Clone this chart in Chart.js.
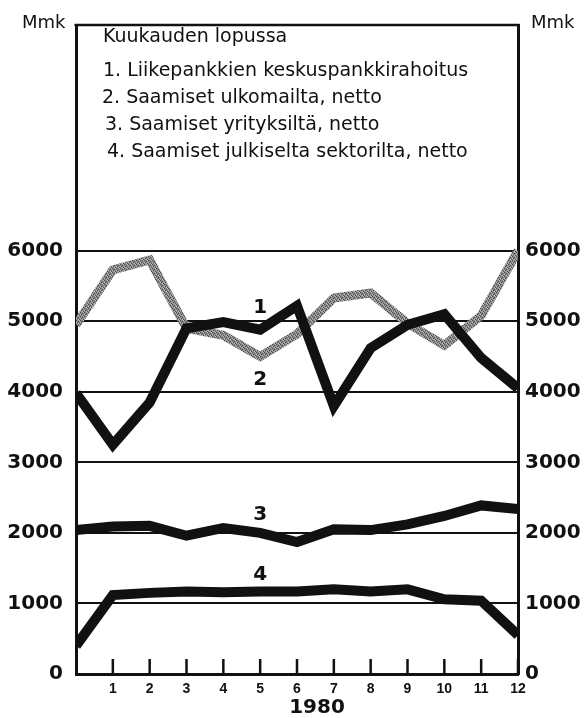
<!DOCTYPE html>
<html>
<head>
<meta charset="utf-8">
<script src="https://cdn.jsdelivr.net/npm/chart.js@4/dist/chart.umd.min.js"></script>
<style>
  body { margin: 0; background: #fff; }
  #wrap { width: 588px; height: 718px; position: relative; }
</style>
</head>
<body>
<div id="wrap"><canvas id="chart"></canvas></div>
<script>
// months 0..12 (0 = start of year, values at end of each month)
const months = [0, 1, 2, 3, 4, 5, 6, 7, 8, 9, 10, 11, 12];

// 1. Liikepankkien keskuspankkirahoitus
const centralFinancing = [4950, 5730, 5870, 4900, 4800, 4500, 4820, 5330, 5400, 4970, 4660, 5080, 6000];
// 2. Saamiset ulkomailta, netto
const foreignClaims = [3980, 3250, 3850, 4900, 4990, 4880, 5220, 3800, 4620, 4950, 5100, 4480, 4050];
// 3. Saamiset yrityksiltä, netto
const corporateClaims = [2040, 2090, 2100, 1960, 2070, 2000, 1870, 2050, 2040, 2120, 2240, 2390, 2340];
// 4. Saamiset julkiselta sektorilta, netto
const publicClaims = [400, 1120, 1150, 1170, 1160, 1170, 1170, 1200, 1170, 1200, 1060, 1040, 550];

const yTicks = [0, 1000, 2000, 3000, 4000, 5000, 6000];
const xTicks = [1, 2, 3, 4, 5, 6, 7, 8, 9, 10, 11, 12];

const legendTitle = "Kuukauden lopussa";
const legendItems = [
    "1. Liikepankkien keskuspankkirahoitus",
    "2. Saamiset ulkomailta, netto",
    "3. Saamiset yrityksiltä, netto",
    "4. Saamiset julkiselta sektorilta, netto"
];

// where the series numbers sit, in data units
const seriesTags = ["1", "2", "3", "4"];
const seriesTagX = [5, 5, 5, 5];
const seriesTagY = [5190, 4170, 2260, 1400];

function points(values) {
    return months.map((m, i) => ({ x: m, y: values[i] }));
}

// stippled grey for line 1
function greyPattern() {
    const c = document.createElement("canvas");
    c.width = 4;
    c.height = 4;
    const g = c.getContext("2d");
    g.fillStyle = "#8c8c8c";
    g.fillRect(0, 0, 4, 4);
    g.fillStyle = "#4a4a4a";
    g.fillRect(0, 0, 1, 1);
    g.fillRect(2, 1, 1, 1);
    g.fillRect(1, 2, 1, 1);
    g.fillRect(3, 3, 1, 1);
    g.fillStyle = "#bdbdbd";
    g.fillRect(2, 3, 1, 1);
    g.fillRect(0, 2, 1, 1);
    g.fillRect(3, 0, 1, 1);
    return g.createPattern(c, "repeat");
}

const BLACK = "#111";

const extras = {
    id: "extras",
    afterDraw(chart) {
        const ctx = chart.ctx;
        const area = chart.chartArea;
        const x = chart.scales.x;
        const y = chart.scales.y;

        ctx.save();
        ctx.strokeStyle = BLACK;
        ctx.fillStyle = BLACK;

        // top border of frame
        ctx.lineWidth = 2.5;
        ctx.beginPath();
        ctx.moveTo(area.left - 1.5, area.top);
        ctx.lineTo(area.right + 1.5, area.top);
        ctx.stroke();

        // month ticks inside the plot
        ctx.lineWidth = 2.5;
        xTicks.forEach(m => {
            const px = x.getPixelForValue(m);
            ctx.beginPath();
            ctx.moveTo(px, area.bottom);
            ctx.lineTo(px, area.bottom - 15);
            ctx.stroke();
        });

        // unit labels
        ctx.font = "18px 'DejaVu Sans'";
        ctx.textBaseline = "alphabetic";
        ctx.textAlign = "left";
        ctx.fillText("Mmk", 22, 28);
        ctx.fillText("Mmk", 531, 28);

        // legend text
        ctx.font = "19px 'DejaVu Sans'";
        ctx.fillText(legendTitle, area.left + 27, 42);
        const itemX = [103, 102, 105, 107];
        const itemY = [76, 103, 130, 157];
        legendItems.forEach((t, i) => ctx.fillText(t, itemX[i], itemY[i]));

        // series numbers
        ctx.font = "bold 20px 'DejaVu Sans'";
        ctx.textAlign = "center";
        ctx.textBaseline = "middle";
        seriesTags.forEach((t, i) => {
            ctx.fillText(t, x.getPixelForValue(seriesTagX[i]), y.getPixelForValue(seriesTagY[i]));
        });

        // year
        ctx.textBaseline = "alphabetic";
        ctx.fillText("1980", (area.left + area.right) / 2 + 20, 713);

        ctx.restore();
    }
};

const yTickFont = { family: "'DejaVu Sans'", size: 20, weight: "bold" };

function yScale(position, width, pad) {
    return {
        type: "linear",
        position: position,
        min: 0,
        max: 9200,
        afterBuildTicks(scale) {
            scale.ticks = yTicks.map(v => ({ value: v }));
        },
        afterFit(scale) {
            scale.width = width;
        },
        ticks: {
            color: BLACK,
            font: yTickFont,
            padding: pad,
            callback: v => String(v)
        },
        grid: {
            display: position === "left",
            drawTicks: false,
            color: ctx => (ctx.tick && ctx.tick.value > 0 ? BLACK : "transparent"),
            lineWidth: 2
        },
        border: { display: true, color: BLACK, width: 3 }
    };
}

new Chart(document.getElementById("chart"), {
    type: "line",
    data: {
        datasets: [
            {
                label: "1",
                data: points(centralFinancing),
                borderColor: greyPattern(),
                borderWidth: 9,
                order: 2
            },
            {
                label: "2",
                data: points(foreignClaims),
                borderColor: BLACK,
                borderWidth: 10,
                order: 1
            },
            {
                label: "3",
                data: points(corporateClaims),
                borderColor: BLACK,
                borderWidth: 10,
                order: 1
            },
            {
                label: "4",
                data: points(publicClaims),
                borderColor: BLACK,
                borderWidth: 10,
                order: 1
            }
        ]
    },
    options: {
        responsive: true,
        maintainAspectRatio: false,
        devicePixelRatio: 1,
        animation: false,
        layout: { padding: { top: 14, left: 0, right: 0, bottom: 0 } },
        elements: {
            point: { radius: 0 },
            line: { tension: 0, borderJoinStyle: "miter", borderCapStyle: "butt" }
        },
        datasets: { line: { clip: 0 } },
        plugins: {
            legend: { display: false },
            tooltip: { enabled: false }
        },
        scales: {
            x: {
                type: "linear",
                min: 0,
                max: 12,
                afterBuildTicks(scale) {
                    scale.ticks = xTicks.map(v => ({ value: v }));
                },
                afterFit(scale) {
                    scale.height = 44;
                },
                ticks: {
                    color: BLACK,
                    font: { family: "'Liberation Sans'", size: 14, weight: "bold" },
                    padding: 7,
                    maxRotation: 0
                },
                grid: { display: false, drawTicks: false },
                border: { display: true, color: BLACK, width: 3 }
            },
            y: yScale("left", 76, 13),
            y2: yScale("right", 70, 7)
        }
    },
    plugins: [extras]
});
</script>
</body>
</html>
